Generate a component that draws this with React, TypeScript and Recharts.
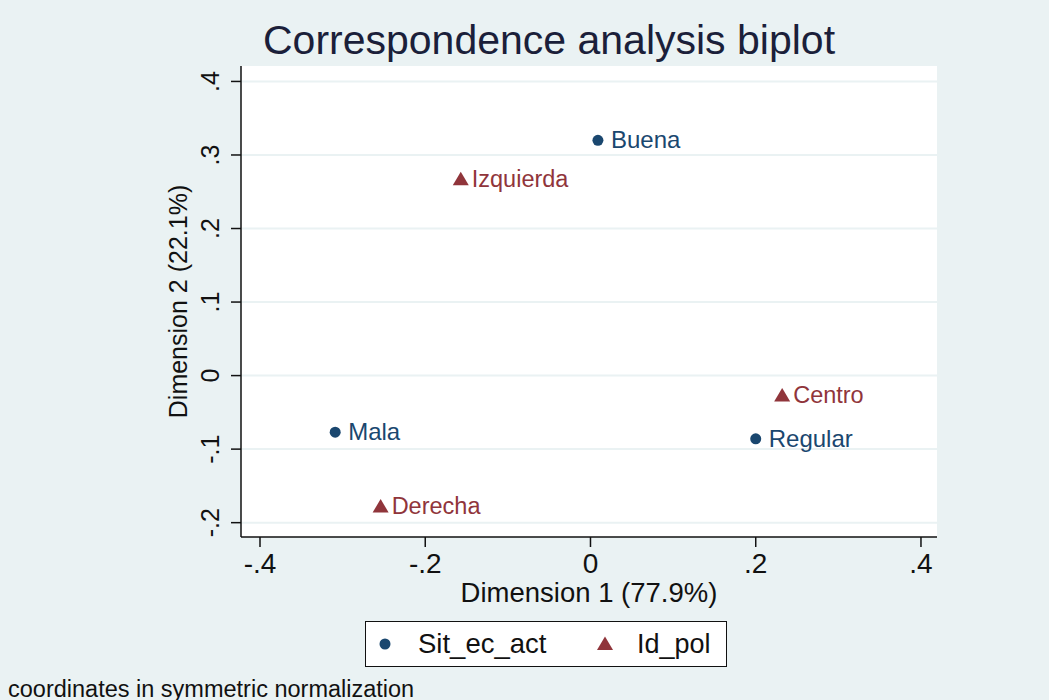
import React from "react";
import { ScatterChart, Scatter, XAxis, YAxis, CartesianGrid, Label } from "recharts";

// row points (Sit_ec_act)
const sitNames = ["Buena", "Mala", "Regular"];
const sitX = [0.009, -0.309, 0.2];
const sitY = [0.32, -0.077, -0.086];

// column points (Id_pol)
const idNames = ["Izquierda", "Centro", "Derecha"];
const idX = [-0.157, 0.232, -0.254];
const idY = [0.267, -0.027, -0.178];

const seriesNames = ["Sit_ec_act", "Id_pol"];
const xTicks = [-0.4, -0.2, 0, 0.2, 0.4];
const yTicks = [-0.2, -0.1, 0, 0.1, 0.2, 0.3, 0.4];

const NAVY = "#1a476f";
const MAROON = "#90353b";
const BG = "#eaf2f3";
const FONT = "'Liberation Sans', Arial, sans-serif";

const sitData = sitNames.map((name, i) => ({ name, x: sitX[i], y: sitY[i] }));
const idData = idNames.map((name, i) => ({ name, x: idX[i], y: idY[i] }));

// stata style: drop the leading zero
const fmt = (v: number) => (v === 0 ? "0" : v.toFixed(1).replace("0.", "."));

const CircleMark = (props: any) => {
  const { cx, cy, payload } = props;
  return (
    <g>
      <circle cx={cx} cy={cy} r={5.5} fill={NAVY} />
      <text x={cx + 13} y={cy + 8} fill={NAVY} fontSize={24} fontFamily={FONT}>
        {payload.name}
      </text>
    </g>
  );
};

const TriangleMark = (props: any) => {
  const { cx, cy, payload } = props;
  return (
    <g>
      <polygon
        points={`${cx},${cy - 7.5} ${cx - 8},${cy + 6} ${cx + 8},${cy + 6}`}
        fill={MAROON}
      />
      <text x={cx + 11} y={cy + 8} fill={MAROON} fontSize={23.5} fontFamily={FONT}>
        {payload.name}
      </text>
    </g>
  );
};

const XTick = (props: any) => {
  const { x, y, payload } = props;
  return (
    <text x={x} y={y + 24} textAnchor="middle" fontSize={28} fontFamily={FONT} fill="#111">
      {fmt(payload.value)}
    </text>
  );
};

const YTick = (props: any) => {
  const { x, y, payload } = props;
  const bx = x - 10;
  return (
    <text
      x={bx}
      y={y}
      transform={`rotate(-90, ${bx}, ${y})`}
      textAnchor="middle"
      fontSize={25}
      fontFamily={FONT}
      fill="#111"
    >
      {fmt(payload.value)}
    </text>
  );
};

const LegendBox = () => (
  <div
    style={{
      position: "absolute",
      left: 365,
      top: 621,
      width: 362,
      height: 46,
      boxSizing: "border-box",
      border: "1.5px solid #111",
      background: "#fff",
    }}
  >
    <svg width={360} height={44}>
      <circle cx={19} cy={22} r={5.5} fill={NAVY} />
      <text x={52} y={31} fontSize={27.5} fontFamily={FONT} fill="#111">
        {seriesNames[0]}
      </text>
      <polygon points="239,14.5 231,28 247,28" fill={MAROON} />
      <text x={271} y={31} fontSize={27} fontFamily={FONT} fill="#111">
        {seriesNames[1]}
      </text>
    </svg>
  </div>
);

export default function App() {
  return (
    <div
      style={{
        position: "absolute",
        left: 0,
        top: 0,
        width: 1049,
        height: 700,
        background: BG,
        overflow: "hidden",
      }}
    >
      <svg width={1049} height={700} style={{ position: "absolute", left: 0, top: 0 }}>
        <text x={549} y={54} textAnchor="middle" fontSize={41} fontFamily={FONT} fill="#1b1f3a">
          Correspondence analysis biplot
        </text>
        <text x={8} y={697} fontSize={23.5} fontFamily={FONT} fill="#111">
          coordinates in symmetric normalization
        </text>
      </svg>
      <div style={{ position: "absolute", left: 0, top: 0 }}>
        <ScatterChart
          width={1049}
          height={700}
          margin={{ top: 66, right: 112, left: 161, bottom: 93 }}
        >
          <CartesianGrid vertical={false} fill="#ffffff" stroke={BG} strokeWidth={2} horizontalValues={yTicks} />
          <XAxis
            type="number"
            dataKey="x"
            domain={[-0.423, 0.4194]}
            ticks={xTicks}
            allowDataOverflow
            height={70}
            tickSize={10}
            tick={<XTick />}
            axisLine={{ stroke: "#111", strokeWidth: 1.5 }}
            tickLine={{ stroke: "#111", strokeWidth: 1.5 }}
          >
            <Label
              content={(p: any) => {
                const vb = p.viewBox;
                return (
                  <text
                    x={vb.x + vb.width / 2}
                    y={vb.y + 65}
                    textAnchor="middle"
                    fontSize={27.5}
                    fontFamily={FONT}
                    fill="#111"
                  >
                    Dimension 1 (77.9%)
                  </text>
                );
              }}
            />
          </XAxis>
          <YAxis
            type="number"
            dataKey="y"
            domain={[-0.2195, 0.421]}
            ticks={yTicks}
            allowDataOverflow
            width={80}
            tickSize={10}
            tick={<YTick />}
            axisLine={{ stroke: "#111", strokeWidth: 1.5 }}
            tickLine={{ stroke: "#111", strokeWidth: 1.5 }}
          >
            <Label
              content={(p: any) => {
                const vb = p.viewBox;
                const cx = 187;
                const cy = vb.y + vb.height / 2;
                return (
                  <text
                    x={cx}
                    y={cy}
                    transform={`rotate(-90, ${cx}, ${cy})`}
                    textAnchor="middle"
                    fontSize={25}
                    fontFamily={FONT}
                    fill="#111"
                  >
                    Dimension 2 (22.1%)
                  </text>
                );
              }}
            />
          </YAxis>
          <Scatter
            name={seriesNames[0]}
            data={sitData}
            shape={<CircleMark />}
            isAnimationActive={false}
          />
          <Scatter
            name={seriesNames[1]}
            data={idData}
            shape={<TriangleMark />}
            isAnimationActive={false}
          />
        </ScatterChart>
      </div>
      <LegendBox />
    </div>
  );
}
